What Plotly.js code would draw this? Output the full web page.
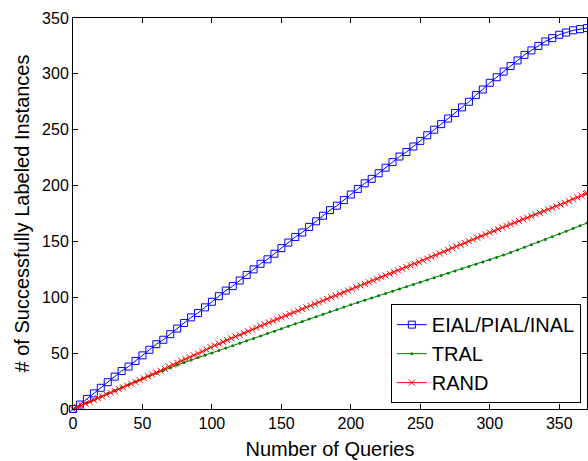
<!DOCTYPE html>
<html>
<head>
<meta charset="utf-8">
<script src="https://cdn.plot.ly/plotly-3.0.1.min.js"></script>
<style>html,body{margin:0;padding:0;background:#fff;}#chart{width:588px;height:461px;}</style>
</head>
<body>
<div id="chart"></div>
<script>
// Queries (x) for the EIAL/PIAL/INAL and TRAL series (every 5 queries)
const queries5 = [0,5,10,15,20,25,30,35,40,45,50,55,60,65,70,75,80,85,90,95,100,105,110,115,120,125,130,135,140,145,150,155,160,165,170,175,180,185,190,195,200,205,210,215,220,225,230,235,240,245,250,255,260,265,270,275,280,285,290,295,300,305,310,315,320,325,330,335,340,345,350,355,360,365,370];

const eialValues = [0,4,9,14,19,24,29,34,38,43,48,53,58,62,67,72,77,82,86,91,96,101,106,110,115,120,125,130,134,139,144,149,154,158,163,168,173,178,182,187,192,197,202,206,211,216,221,226,230,235,240,245,250,255,260,265,270,275,281,286,292,297,302,307,312,317,321,325,329,332,335,337,339,340,341];

const tralValues = [0,2.8,5.6,8.3,11,13.8,16.5,19.2,21.8,24.4,27,29.5,32,34.5,37,39.3,41.6,43.8,46,48.1,50.2,52.4,54.5,56.7,58.9,61,63.2,65.3,67.5,69.7,71.8,74,76.2,78.3,80.5,82.6,84.8,87,89.1,91.3,93.4,95.4,97.4,99.4,101.4,103.4,105.4,107.4,109.4,111.4,113.4,115.5,117.5,119.5,121.5,123.5,125.5,127.5,129.5,131.5,133.5,135.7,137.9,140.1,142.4,144.7,147,149.4,151.8,154.2,156.7,159.1,161.6,164,166.5];

// Queries (x) for the RAND series (every 3 queries)
const queries3 = [0,3,6,9,12,15,18,21,24,27,30,33,36,39,42,45,48,51,54,57,60,63,66,69,72,75,78,81,84,87,90,93,96,99,102,105,108,111,114,117,120,123,126,129,132,135,138,141,144,147,150,153,156,159,162,165,168,171,174,177,180,183,186,189,192,195,198,201,204,207,210,213,216,219,222,225,228,231,234,237,240,243,246,249,252,255,258,261,264,267,270,273,276,279,282,285,288,291,294,297,300,303,306,309,312,315,318,321,324,327,330,333,336,339,342,345,348,351,354,357,360,363,366,369,370];

const randValues = [0,1.6,3.2,4.8,6.4,8,9.7,11.3,12.9,14.5,16.1,17.8,19.4,21,22.6,24.2,25.9,27.5,29.2,30.9,32.6,34.3,36,38,39.7,41.4,43,44.7,46.4,48,49.7,51.4,53.2,55.4,57,58.5,60,61.7,63.3,64.8,66.4,68,69.6,71.2,72.8,74.4,75.9,77.5,79,80.5,82,83.5,85,86.5,88,89.5,91,92.5,94,95.5,97,98.5,100,101.5,103,104.5,106,107.5,109,110.5,112,113.5,115,116.5,118,119.5,121,122.5,124,125.5,127,128.5,130,131.5,133,134.6,136.2,137.7,139.3,140.8,142.4,144,145.5,147,148.6,150.2,151.7,153.3,154.8,156.4,158,159.5,161,162.5,164,165.4,166.9,168.3,169.8,171.2,172.7,174.2,175.6,177.1,178.5,180,181.4,182.9,184.4,186,187.7,189.4,191.1,192.8,193.3];

const seriesNames = ['EIAL/PIAL/INAL', 'TRAL', 'RAND'];
const xTicks = [0,50,100,150,200,250,300,350];
const yTicks = [0,50,100,150,200,250,300,350];

const traces = [
  {
    x: queries5, y: eialValues, name: seriesNames[0], type: 'scatter', mode: 'lines+markers',
    line: {color: '#0000ff', width: 1},
    marker: {symbol: 'square-open', size: 7, color: '#0000ff', line: {width: 1, color: '#0000ff'}},
    cliponaxis: false
  },
  {
    x: queries5, y: tralValues, name: seriesNames[1], type: 'scatter', mode: 'lines+markers',
    line: {color: '#008000', width: 1},
    marker: {symbol: 'circle', size: 3, color: '#008000'},
    cliponaxis: false
  },
  {
    x: queries3, y: randValues, name: seriesNames[2], type: 'scatter', mode: 'lines+markers',
    line: {color: '#ff0000', width: 1},
    marker: {symbol: 'x-thin-open', size: 6, color: '#ff0000', line: {width: 1, color: '#ff0000'}},
    cliponaxis: false
  }
];

const axisCommon = {
  showline: true, linecolor: '#000', linewidth: 1, mirror: 'ticks',
  ticks: 'inside', ticklen: 5, tickcolor: '#000', tickwidth: 1,
  showgrid: false, zeroline: false,
  tickfont: {family: 'Liberation Sans, Arial, sans-serif', size: 16, color: '#000'}
};

const layout = {
  width: 588, height: 461,
  margin: {l: 73, r: 1, t: 18, b: 52},
  paper_bgcolor: '#fff', plot_bgcolor: '#fff',
  showlegend: true,
  xaxis: Object.assign({}, axisCommon, {
    range: [0, 370], tickvals: xTicks,
    title: {text: 'Number of Queries', font: {family: 'Liberation Sans, Arial, sans-serif', size: 20, color: '#000'}, standoff: 10}
  }),
  yaxis: Object.assign({}, axisCommon, {
    range: [0, 350], tickvals: yTicks,
    title: {text: '# of Successfully Labeled Instances', font: {family: 'Liberation Sans, Arial, sans-serif', size: 20, color: '#000'}, standoff: 7}
  }),
  legend: {
    x: 0.988, y: 0.015, xanchor: 'right', yanchor: 'bottom',
    bgcolor: '#fff', bordercolor: '#000', borderwidth: 1,
    font: {family: 'Liberation Sans, Arial, sans-serif', size: 20, color: '#000'},
    itemwidth: 30, tracegroupgap: 0
  }
};

Plotly.newPlot('chart', traces, layout, {displayModeBar: false, staticPlot: true});
</script>
</body>
</html>
